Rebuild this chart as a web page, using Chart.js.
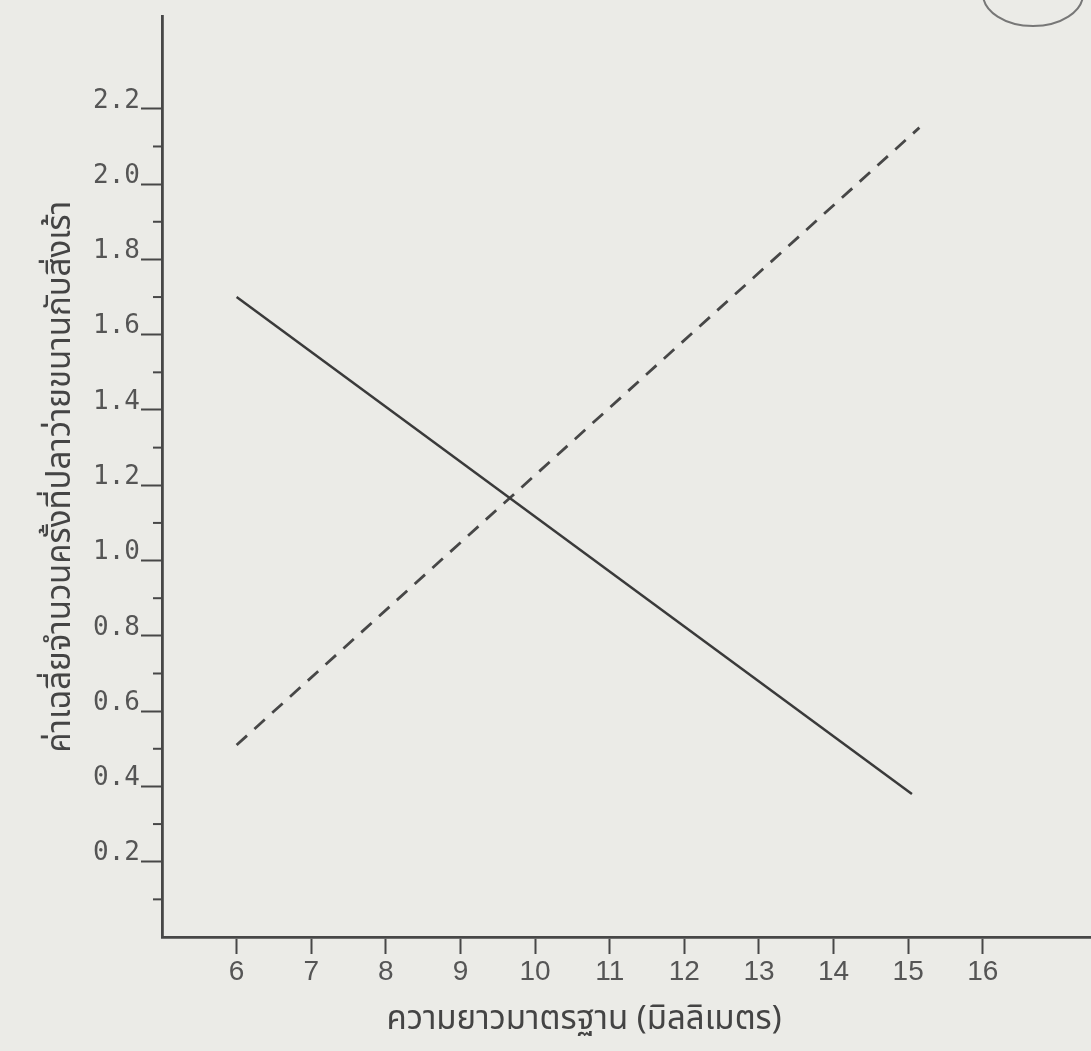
<!DOCTYPE html>
<html>
<head>
<meta charset="utf-8">
<script src="https://cdn.jsdelivr.net/npm/chart.js@4/dist/chart.umd.min.js"></script>
<style>
  html, body { margin: 0; padding: 0; background: #ebebe7; }
  #wrap { width: 1091px; height: 1051px; }
</style>
</head>
<body>
<div id="wrap"><canvas id="c" width="1091" height="1051"></canvas></div>
<script>
// ---- data ----
const xTickValues = [6, 7, 8, 9, 10, 11, 12, 13, 14, 15, 16];
const yTickValues = [0.2, 0.4, 0.6, 0.8, 1.0, 1.2, 1.4, 1.6, 1.8, 2.0, 2.2];
const yTickLabels = ['0.2', '0.4', '0.6', '0.8', '1.0', '1.2', '1.4', '1.6', '1.8', '2.0', '2.2'];
const yMinorTickValues = [0.1, 0.3, 0.5, 0.7, 0.9, 1.1, 1.3, 1.5, 1.7, 1.9, 2.1];

const solidX = [6, 15.05];
const solidY = [1.70, 0.38];
const dashedX = [6, 15.15];
const dashedY = [0.51, 2.15];

const xTitle = 'ความยาวมาตรฐาน (มิลลิเมตร)';
const yTitle = 'ค่าเฉลี่ยจำนวนครั้งที่ปลาว่ายขนานกับสิ่งเร้า';

const thaiFont = "'Noto Sans Thai', 'Noto Sans Thai Looped', 'Loma', 'Garuda', 'Noto Sans', 'DejaVu Sans', sans-serif";
const ink = '#474747';

const toPts = (xs, ys) => xs.map((x, i) => ({ x: x, y: ys[i] }));

const paperPlugin = {
  id: 'paper',
  beforeDraw(chart) {
    const ctx = chart.ctx;
    ctx.save();
    ctx.fillStyle = '#ebebe7';
    ctx.fillRect(0, 0, chart.width, chart.height);
    ctx.restore();
  },
  afterDraw(chart) {
    const ctx = chart.ctx;
    const ys = chart.scales.y;
    ctx.save();
    // minor y ticks
    ctx.strokeStyle = ink;
    ctx.lineWidth = 2;
    const x0 = ys.right;
    yMinorTickValues.forEach(v => {
      const py = ys.getPixelForValue(v);
      ctx.beginPath();
      ctx.moveTo(x0 - 9, py);
      ctx.lineTo(x0, py);
      ctx.stroke();
    });
    // x axis title
    ctx.fillStyle = '#444';
    ctx.font = "33px " + thaiFont;
    ctx.textAlign = 'center';
    ctx.textBaseline = 'middle';
    ctx.fillText(xTitle, 584, 1022);
    // page stamp arc (top-right corner)
    ctx.strokeStyle = '#777';
    ctx.lineWidth = 2;
    ctx.beginPath();
    ctx.ellipse(1033, -6, 50, 32, 0, 0, Math.PI);
    ctx.stroke();
    ctx.restore();
  }
};

new Chart(document.getElementById('c'), {
  type: 'scatter',
  data: {
    datasets: [
      {
        label: 'solid',
        data: toPts(solidX, solidY),
        showLine: true,
        borderColor: '#3a3a3a',
        borderWidth: 2.5,
        pointRadius: 0,
        fill: false
      },
      {
        label: 'dashed',
        data: toPts(dashedX, dashedY),
        showLine: true,
        borderColor: '#474747',
        borderWidth: 2.8,
        borderDash: [14, 10],
        pointRadius: 0,
        fill: false
      }
    ]
  },
  options: {
    responsive: false,
    animation: false,
    layout: { padding: { top: 15, right: 0, left: 0, bottom: 0 } },
    plugins: {
      legend: { display: false },
      tooltip: { enabled: false }
    },
    scales: {
      x: {
        type: 'linear',
        min: 5,
        max: 17.45,
        afterFit(scale) { scale.height = 114; },
        afterBuildTicks(scale) { scale.ticks = xTickValues.map(v => ({ value: v })); },
        border: { display: true, color: ink, width: 2.8 },
        grid: { display: true, drawOnChartArea: false, drawTicks: true, tickLength: 17, tickColor: ink, tickWidth: 2 },
        ticks: {
          padding: 1,
          color: '#555',
          font: { family: "'Liberation Sans', 'DejaVu Sans', sans-serif", size: 28 },
          callback: (v) => String(v)
        },
        title: { display: false }
      },
      y: {
        type: 'linear',
        min: 0,
        max: 2.445,
        afterFit(scale) { scale.width = 162; },
        afterBuildTicks(scale) { scale.ticks = yTickValues.map(v => ({ value: v })); },
        border: { display: true, color: ink, width: 2.8 },
        grid: { display: true, drawOnChartArea: false, drawTicks: true, tickLength: 21, tickColor: ink, tickWidth: 2 },
        ticks: {
          padding: 1,
          labelOffset: -8,
          color: '#555',
          font: { family: "'DejaVu Sans Mono', 'Liberation Mono', monospace", size: 26 },
          callback: (v) => {
            const i = yTickValues.findIndex(t => Math.abs(t - v) < 1e-9);
            return i >= 0 ? yTickLabels[i] : '';
          }
        },
        title: {
          display: true,
          text: yTitle,
          color: '#444',
          font: { family: thaiFont, size: 33 },
          padding: { top: 44, bottom: 0 }
        }
      }
    }
  },
  plugins: [paperPlugin]
});
</script>
</body>
</html>
